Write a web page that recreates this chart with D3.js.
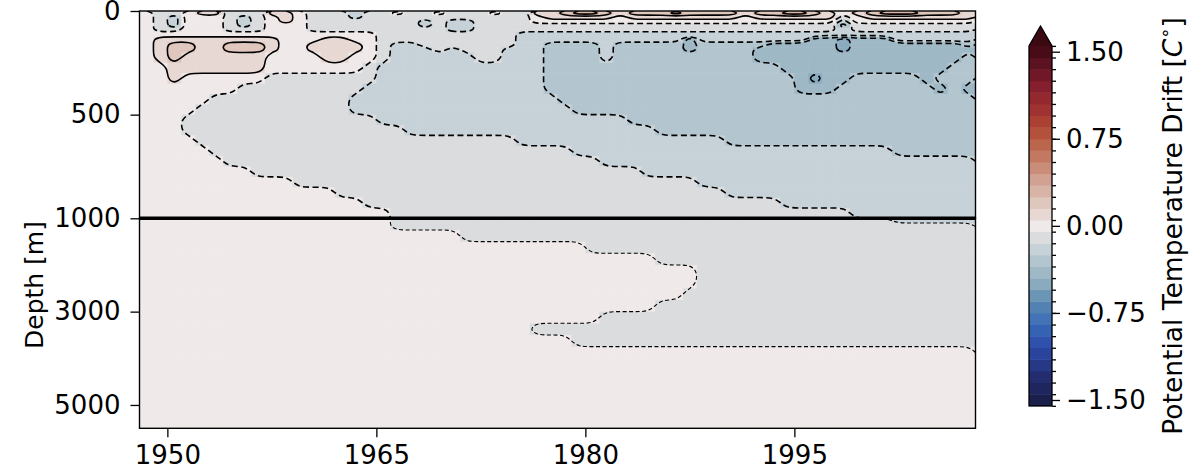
<!DOCTYPE html>
<html>
<head>
<meta charset="utf-8">
<script src="https://cdn.jsdelivr.net/npm/d3@7.9.0/dist/d3.min.js"></script>
<style>
  html, body { margin: 0; padding: 0; background: #fff; }
  svg text { font-family: "DejaVu Sans", sans-serif; fill: #000; }
</style>
</head>
<body>
<svg id="chart" width="1202" height="472"></svg>
<script>
// first year of the annual columns (each string below has one char per year)
const firstYear = 1948;
const yearTicks = [1950, 1965, 1980, 1995];
const topDepthTicks = [0, 500, 1000];
const deepDepthTicks = [3000, 5000];
const colorbarTicks = [-1.5, -0.75, 0, 0.75, 1.5];

// depth cell edges [m]
const topDepthEdges = [0, 20, 40, 60, 80, 100, 125, 150, 175, 200, 250, 300, 350, 400, 450, 500, 550, 600, 650, 700, 750, 800, 850, 900, 950, 1000];
const deepDepthEdges = [1000, 1100, 1250, 1500, 1750, 2000, 2250, 2500, 2750, 3000, 3250, 3500, 3750, 4000, 4500, 5000, 5500];

// drift, one char per cell (decades separated by spaces)
const driftCodes = { '.': 0, p: 0.1, q: 0.2, r: 0.3, a: -0.1, b: -0.2, c: -0.3, d: -0.4, e: -0.5 };

const topRows = [
  '.aa.ppaaap p.aaabaa.a a.aaa.aapp qrrqpqqqrq qqqpqqrrqp .pqrrrqqqp',
  '.ab...aba. p.aaabaaaa aaaaaaaa.p pppp.ppppp ppp.pppppp a.pppppppp',
  '.ab...aba. p.aaaaaaaa babbaaaa.. .......... .......... b.........',
  '.ab...aba. ..aaaaaaaa babbaaaaaa aaaaaaaaaa aaaaaaaaaa caaaaaaaaa',
  '.aa...aaa. ..aaaaaaaa aabbaaaaaa aaaaaaaaaa aaaaaaaaaa baaaaaaaaa',
  '.......... .......aaa aaaaaaabbb bbbbbbbbbb bbbbbbbbbb bbbbbbbbbb',
  '.ppppppppp ...pp..aaa aaaaaaabbb bbbbbbbbbd bbbbbbbbdd edddbbbbbb',
  '.pqqppqqqp ..pppp.abb aaaaaaabbc cccbcccccd cccccddddd eddddddddc',
  '.pqqppqqqp ..pppp.abb babaaabbbc cccbcccccd ccccdddddd eddddddddd',
  '.pqpppppp. ...pp..abb bbbbaabbbc cccbcccccc ccccdddddd dddddddddc',
  '..ppppppp. ......abbb bbbbbbbbbc cccccccccc ccccccdddd ddddddddcc',
  '..p......a aaaaaaabbb bbbbbbbbbc cccccccccc cccccccded dcccccdccc',
  '.......aaa aaaaaabbbb bbbbbbbbbc cccccccccc cccccccddd cccccccdcd',
  '.....aaaaa aaaaabbbbb bbbbbbbbbb cccccccccc cccccccccc cccccccccc',
  '....aaaaaa aaaaabbbbb bbbbbbbbbb bccccccccc cccccccccc cccccccccc',
  '...aaaaaaa aaaaaaabbb bbbbbbbbbb bbbbbccccc cccccccccc cccccccccc',
  '...aaaaaaa aaaaaaaaab bbbbbbbbbb bbbbbbbccc cccccccccc cccccccccc',
  '....aaaaaa aaaaaaaaaa aaaaaaabbb bbbbbbbbbb bbcccccccc cccccccccc',
  '.....aaaaa aaaaaaaaaa aaaaaaaaaa abbbbbbbbb bbbbbbbbbb bbbbcccccc',
  '......aaaa aaaaaaaaaa aaaaaaaaaa aaabbbbbbb bbbbbbbbbb bbbbbbbbbb',
  '........aa aaaaaaaaaa aaaaaaaaaa aaaaaabbbb bbbbbbbbbb bbbbbbbbbb',
  '.......... .aaaaaaaaa aaaaaaaaaa aaaaaaaaaa bbbbbbbbbb bbbbbbbbbb',
  '.......... ....aaaaaa aaaaaaaaaa aaaaaaaaaa aabbbbbbbb bbbbbbbbbb',
  '.......... ......aaaa aaaaaaaaaa aaaaaaaaaa aaaaaabbbb bbbbbbbbbb',
  '.......... ........aa aaaaaaaaaa aaaaaaaaaa aaaaaaaaaa abbbbbbbbb'
];

const deepRows = [
  '.......... ........aa aaaaaaaaaa aaaaaaaaaa aaaaaaaaaa aaaabbbbbb',
  '.......... ........aa aaaaaaaaaa aaaaaaaaaa aaaaaaaaaa aaaaaaaaaa',
  '.......... .......... ...aaaaaaa aaaaaaaaaa aaaaaaaaaa aaaaaaaaaa',
  '.......... .......... .......... ..aaaaaaaa aaaaaaaaaa aaaaaaaaaa',
  '.......... .......... .......... .......aaa aaaaaaaaaa aaaaaaaaaa',
  '.......... .......... .......... .......... aaaaaaaaaa aaaaaaaaaa',
  '.......... .......... .......... .......... aaaaaaaaaa aaaaaaaaaa',
  '.......... .......... .......... .........a aaaaaaaaaa aaaaaaaaaa',
  '.......... .......... .......... .......aaa aaaaaaaaaa aaaaaaaaaa',
  '.......... .......... .......... ...aaaaaaa aaaaaaaaaa aaaaaaaaaa',
  '.......... .......... ........aa aaaaaaaaaa aaaaaaaaaa aaaaaaaaaa',
  '.......... .......... .......... .aaaaaaaaa aaaaaaaaaa aaaaaaaaaa',
  '.......... .......... .......... .......... .......... ..........',
  '.......... .......... .......... .......... .......... ..........',
  '.......... .......... .......... .......... .......... ..........',
  '.......... .......... .......... .......... .......... ..........'
];

// contour line levels and colorbar levels
const lineLevels = [-0.45, -0.35, -0.25, -0.15, -0.05, 0.05, 0.15, 0.25];
const fillLevels = d3.range(32).map(i => +(-1.55 + 0.1 * i).toFixed(2));

// diverging map (close to cmocean balance)
const cmapStops = [0, 0.08, 0.16, 0.23, 0.29, 0.339, 0.371, 0.403, 0.436, 0.468, 0.5, 0.532, 0.565, 0.597, 0.65, 0.71, 0.77, 0.83, 0.89, 0.95, 1];
const cmapColors = ['#181c43', '#232c6e', '#2b48a8', '#3b6db8', '#5b8ab0', '#8aabbf', '#9fb8c6', '#b3c5cf', '#c7d2d8', '#dadcde', '#efeae9',
  '#e8d8d3', '#e0c7bd', '#d8b4a7', '#cc9482', '#bf6e56', '#b04a35', '#9e3030', '#841e2e', '#5e1222', '#3c0912'];

const cmap = d3.scaleLinear().domain(cmapStops).range(cmapColors).interpolate(d3.interpolateRgb).clamp(true);
const lo = fillLevels[0], hi = fillLevels[fillLevels.length - 1];
const bandColors = [cmap(0)];
for (let i = 0; i < fillLevels.length - 1; i++) {
  bandColors.push(cmap((fillLevels[i] + 0.05 - lo) / (hi - lo)));
}
bandColors.push(cmap(1));
const bandColor = d3.scaleThreshold().domain(fillLevels).range(bandColors);

const svg = d3.select('#chart');
const fontSize = 26;

// scales: one time axis, depth split at 1000 m
const x = d3.scaleLinear().domain([1948, 2008]).range([139.5, 975.5]);
const yTop = d3.scaleLinear().domain([0, 1000]).range([11, 218.3]);
const yDeep = d3.scaleLinear().domain([1000, 5500]).range([218.3, 428.3]);
const yDepth = d => d <= 1000 ? yTop(d) : yDeep(d);

const depthEdges = topDepthEdges.concat(deepDepthEdges.slice(1));
const rows = topRows.concat(deepRows).map(s => s.replace(/ /g, ''));
const nx = rows[0].length, ny = rows.length;

const values = [];
const cells = [];
rows.forEach((s, r) => {
  [...s].forEach((ch, c) => {
    values.push(driftCodes[ch]);
    cells.push({ c, r, v: driftCodes[ch] });
  });
});

const defs = svg.append('defs');
function addClip(id, d0, d1) {
  defs.append('clipPath').attr('id', id)
    .append('rect')
    .attr('x', x(1948)).attr('y', yDepth(d0))
    .attr('width', x(2008) - x(1948)).attr('height', yDepth(d1) - yDepth(d0));
}
addClip('plotclip', 0, 5500);
addClip('topclip', 0, 1000);
addClip('deepclip', 1000, 5500);

const plot = svg.append('g').attr('clip-path', 'url(#plotclip)');

// pcolormesh-like cells
plot.append('g').selectAll('rect')
  .data(cells)
  .join('rect')
  .attr('x', d => x(firstYear + d.c))
  .attr('width', d => x(firstYear + d.c + 1) - x(firstYear + d.c) + 0.6)
  .attr('y', d => yDepth(depthEdges[d.r]))
  .attr('height', d => yDepth(depthEdges[d.r + 1]) - yDepth(depthEdges[d.r]) + 0.6)
  .attr('fill', d => bandColor(d.v));

// contour lines from the same grid
const contours = d3.contours().size([nx, ny]).thresholds(lineLevels)(values);

function toPixel(p) {
  const k = Math.min(Math.floor(p[1]), ny - 1);
  const f = p[1] - k;
  const depth = depthEdges[k] + f * (depthEdges[k + 1] - depthEdges[k]);
  return [x(firstYear + p[0]), yDepth(depth)];
}

const atBorder = p => p[0] === 0 || p[0] === nx || p[1] === 0 || p[1] === ny;
const alongBorder = (a, b) => atBorder(a) && atBorder(b);

// split closed rings into open lines, dropping runs along the grid border
function ringLines(ring) {
  const pts = ring.slice(0, -1);
  const k = pts.length;
  let start = -1;
  for (let i = 0; i < k; i++) {
    if (alongBorder(pts[i], pts[(i + 1) % k])) { start = i + 1; break; }
  }
  if (start < 0) return [{ closed: true, pts }];
  const out = [];
  let cur = [pts[start % k]];
  for (let s = 0; s < k; s++) {
    const a = pts[(start + s) % k], b = pts[(start + s + 1) % k];
    if (alongBorder(a, b)) {
      if (cur.length > 1) out.push({ closed: false, pts: cur });
      cur = [b];
    } else {
      cur.push(b);
    }
  }
  if (cur.length > 1) out.push({ closed: false, pts: cur });
  return out;
}

const lineData = [];
contours.forEach(ct => {
  ct.coordinates.forEach(poly => poly.forEach(ring => {
    ringLines(ring).forEach(l => lineData.push({ value: ct.value, closed: l.closed, pts: l.pts.map(toPixel) }));
  }));
});

const openLine = d3.line().curve(d3.curveBasis);
const closedLine = d3.line().curve(d3.curveBasisClosed);

// the two panels draw their lines a bit differently
[['topclip', 1.6, '6,3.5'], ['deepclip', 1.1, '4,2.5']].forEach(([clip, w, dash]) => {
  svg.append('g').attr('clip-path', `url(#${clip})`)
    .selectAll('path')
    .data(lineData)
    .join('path')
    .attr('d', d => d.closed ? closedLine(d.pts) : openLine(d.pts))
    .attr('fill', 'none')
    .attr('stroke', '#000')
    .attr('stroke-width', w)
    .attr('stroke-dasharray', d => d.value < 0 ? dash : null);
});

// frames and the 1000 m divider
[[0, 1000], [1000, 5500]].forEach(([d0, d1]) => {
  svg.append('rect')
    .attr('x', x(1948)).attr('y', yDepth(d0))
    .attr('width', x(2008) - x(1948)).attr('height', yDepth(d1) - yDepth(d0))
    .attr('fill', 'none').attr('stroke', '#000').attr('stroke-width', 1.4);
});
svg.append('line')
  .attr('x1', x(1948)).attr('x2', x(2008))
  .attr('y1', yTop(1000)).attr('y2', yTop(1000))
  .attr('stroke', '#000').attr('stroke-width', 3.5);

function styleAxis(g) {
  g.select('.domain').remove();
  g.selectAll('.tick line').attr('stroke', '#000').attr('stroke-width', 1.3);
  g.selectAll('.tick text').attr('font-size', fontSize).attr('font-family', 'DejaVu Sans').attr('fill', '#000');
}

svg.append('g')
  .attr('transform', `translate(0,${yDeep(5500)})`)
  .call(d3.axisBottom(x).tickValues(yearTicks).tickFormat(d3.format('d')).tickSize(9).tickPadding(8))
  .call(styleAxis);

svg.append('g')
  .attr('transform', `translate(${x(1948)},0)`)
  .call(d3.axisLeft(yTop).tickValues(topDepthTicks).tickFormat(d3.format('d')).tickSize(9).tickPadding(10))
  .call(styleAxis);

svg.append('g')
  .attr('transform', `translate(${x(1948)},0)`)
  .call(d3.axisLeft(yDeep).tickValues(deepDepthTicks).tickFormat(d3.format('d')).tickSize(9).tickPadding(10))
  .call(styleAxis);

svg.append('text')
  .attr('transform', 'translate(43,285) rotate(-90)')
  .attr('text-anchor', 'middle')
  .attr('font-size', 25)
  .text('Depth [m]');

// colorbar
const cbX0 = 1029, cbX1 = 1052;
const cbY = d3.scaleLinear().domain([lo, hi]).range([405.8, 45.9]);
const cb = svg.append('g');
cb.selectAll('rect')
  .data(d3.pairs(fillLevels))
  .join('rect')
  .attr('x', cbX0).attr('width', cbX1 - cbX0)
  .attr('y', d => cbY(d[1]))
  .attr('height', d => cbY(d[0]) - cbY(d[1]) + 0.5)
  .attr('fill', d => bandColor((d[0] + d[1]) / 2));
cb.append('path')
  .attr('d', `M${cbX0},${cbY(hi)}L${(cbX0 + cbX1) / 2},26L${cbX1},${cbY(hi)}Z`)
  .attr('fill', cmap(1));
cb.append('path')
  .attr('d', `M${cbX0},${cbY(lo)}L${cbX0},${cbY(hi)}L${(cbX0 + cbX1) / 2},26L${cbX1},${cbY(hi)}L${cbX1},${cbY(lo)}Z`)
  .attr('fill', 'none').attr('stroke', '#000').attr('stroke-width', 1.3);

svg.append('g')
  .attr('transform', `translate(${cbX1},0)`)
  .call(d3.axisRight(cbY).tickValues(fillLevels).tickSize(4).tickFormat(''))
  .call(styleAxis);
svg.append('g')
  .attr('transform', `translate(${cbX1},0)`)
  .call(d3.axisRight(cbY).tickValues(colorbarTicks).tickFormat(d3.format('.2f')).tickSize(8).tickPadding(6))
  .call(styleAxis);

const cbLabel = svg.append('text')
  .attr('transform', `translate(1182,${cbY(0)}) rotate(-90)`)
  .attr('text-anchor', 'middle')
  .attr('font-size', 26.5);
cbLabel.append('tspan').text('Potential Temperature Drift [');
cbLabel.append('tspan').attr('font-style', 'italic').text('C');
cbLabel.append('tspan').attr('font-size', 18).attr('dy', -11).text('\u2218');
cbLabel.append('tspan').attr('dy', 11).text(']');
</script>
</body>
</html>
